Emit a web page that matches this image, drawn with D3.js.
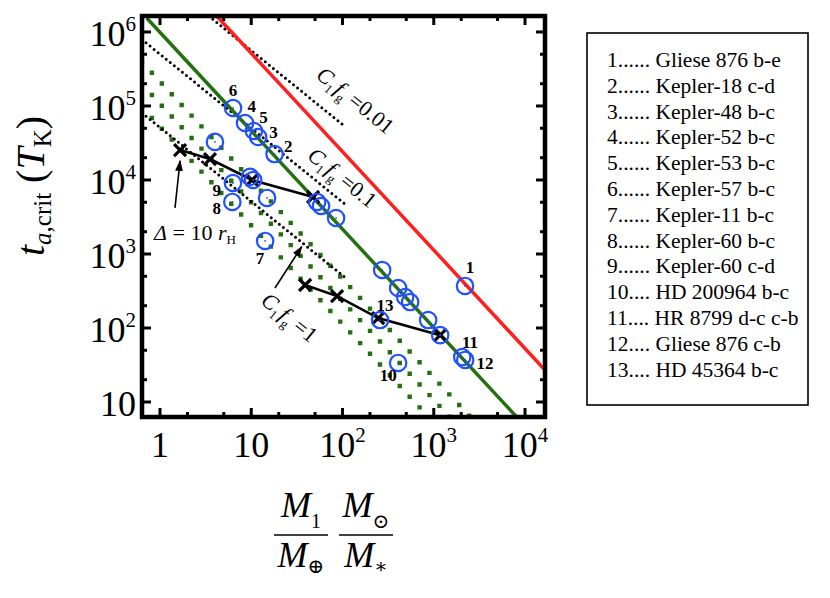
<!DOCTYPE html>
<html>
<head>
<meta charset="utf-8">
<script src="https://cdn.jsdelivr.net/npm/d3@7/dist/d3.min.js"></script>
<style>
  body { margin: 0; background: #fff; }
  svg { font-family: "Liberation Serif", "Times New Roman", "DejaVu Serif", serif; }
</style>
</head>
<body>
<svg width="830" height="598"></svg>
<script>

// planet pairs (blue circles)
var pairX = [2200, 18, 11.9, 10.7, 8.55, 6.32, 4.0, 9.7, 10.5, 6.3, 6.2, 14.9, 52.7, 58.2, 85, 14.2, 272, 407, 486, 551, 258, 868, 1175, 2050, 2210, 407];
var pairY = [370, 22400, 38100, 45900, 58900, 93900, 32700, 11000, 10000, 9100, 5050, 5720, 5050, 4450, 3060, 1500, 608, 347, 262, 224, 128, 128, 80, 40.5, 37, 33.7];

// number labels next to the circles
var labelNum = ["6", "4", "5", "3", "2", "9", "8", "7", "1", "13", "11", "12", "10"];
var labelX = [6.31, 10.1, 13.6, 17.5, 25.5, 4.18, 4.18, 12.5, 2497, 292, 2497, 3645, 318];
var labelY = [1.64e5, 1.0e5, 7.16e4, 4.5e4, 2.88e4, 7330, 4200, 875, 673, 205, 65.3, 33.4, 23.2];

// legend
var legendText = ["1...... Gliese 876 b-e", "2...... Kepler-18 c-d", "3...... Kepler-48 b-c",
  "4...... Kepler-52 b-c", "5...... Kepler-53 b-c", "6...... Kepler-57 b-c", "7...... Kepler-11 b-c",
  "8...... Kepler-60 b-c", "9...... Kepler-60 c-d", "10.... HD 200964 b-c", "11.... HR 8799 d-c c-b",
  "12.... Gliese 876 c-b", "13.... HD 45364 b-c"];

// Delta = 10 r_H tracks (crosses)
var trackAX = [1.66, 3.53, 10.2, 47.6];
var trackAY = [25400, 19200, 10000, 5890];
var trackBX = [38.9, 87.2, 246, 1175];
var trackBY = [381, 270, 136, 80];

// straight lines, end points
var redLine = [[4.18, 1.644e6], [1.656e4, 27]];
var greenLine = [[0.715, 1.545e6], [8110, 6.27]];
var greenDotted = [
  [[0.635, 3.92e5], [2512, 6.27]],
  [[0.635, 1.96e5], [1496, 6.27]],
  [[0.635, 9.6e4], [875, 6.27]]
];
var blackDotted = [
  [[3.42, 1.644e6], [107, 52500]],
  [[0.635, 7.9e5], [107, 4700]],
  [[0.635, 8.07e4], [107, 480]]
];
var cfgText = ["0.01", "0.1", "1"];
var cfgX = [137, 98.8, 25.9];
var cfgY = [1.17e5, 1.06e4, 136];

var xTicks = [1, 10, 100, 1000, 10000];
var xTickExp = ["", "", "2", "3", "4"];
var yTicks = [10, 100, 1000, 1e4, 1e5, 1e6];
var yTickExp = ["", "2", "3", "4", "5", "6"];

var svg = d3.select("svg");
var L = 142, R = 545, T = 16, B = 417;

var x = d3.scaleLog().domain([0.635, 1.656e4]).range([L, R]);
var y = d3.scaleLog().domain([6.27, 1.644e6]).range([B, T]);

var defs = svg.append("defs");
defs.append("clipPath").attr("id", "clip")
  .append("rect").attr("x", L).attr("y", T).attr("width", R - L).attr("height", B - T);
defs.append("marker").attr("id", "arrow")
  .attr("viewBox", "0 0 10 10").attr("refX", 9).attr("refY", 5)
  .attr("markerWidth", 7).attr("markerHeight", 7).attr("orient", "auto")
  .append("path").attr("d", "M0,1.5L10,5L0,8.5z").attr("fill", "#000");

var line = d3.line().x(function(d) { return x(d[0]); }).y(function(d) { return y(d[1]); });

var g = svg.append("g").attr("clip-path", "url(#clip)");

// green dotted
greenDotted.forEach(function(p) {
  g.append("path").attr("d", line(p))
    .attr("fill", "none").attr("stroke", "#23700f")
    .attr("stroke-width", 4.4).attr("stroke-linecap", "square")
    .attr("stroke-dasharray", "0,14.6");
});

// black dotted
blackDotted.forEach(function(p) {
  g.append("path").attr("d", line(p))
    .attr("fill", "none").attr("stroke", "#000")
    .attr("stroke-width", 3).attr("stroke-linecap", "round")
    .attr("stroke-dasharray", "0,5.2");
});

g.append("path").attr("d", line(redLine))
  .attr("fill", "none").attr("stroke", "#ff1f1f").attr("stroke-width", 3.5);
g.append("path").attr("d", line(greenLine))
  .attr("fill", "none").attr("stroke", "#23700f").attr("stroke-width", 3.5);

// tracks
[[trackAX, trackAY], [trackBX, trackBY]].forEach(function(t) {
  var pts = t[0].map(function(v, i) { return [v, t[1][i]]; });
  g.append("path").attr("d", line(pts))
    .attr("fill", "none").attr("stroke", "#000").attr("stroke-width", 2.6);
  g.selectAll(null).data(pts).enter().append("path")
    .attr("transform", function(d) { return "translate(" + x(d[0]) + "," + y(d[1]) + ")"; })
    .attr("d", "M-6,-6L6,6M-6,6L6,-6")
    .attr("stroke", "#000").attr("stroke-width", 3.2);
});

// planet circles
var pts = pairX.map(function(v, i) { return [v, pairY[i]]; });
g.selectAll(null).data(pts).enter().append("circle")
  .attr("cx", function(d) { return x(d[0]); })
  .attr("cy", function(d) { return y(d[1]); })
  .attr("r", 8.2).attr("fill", "none").attr("stroke", "#2050ff").attr("stroke-width", 2.2);
g.selectAll(null).data(pts).enter().append("circle")
  .attr("cx", function(d) { return x(d[0]); })
  .attr("cy", function(d) { return y(d[1]); })
  .attr("r", 0.9).attr("fill", "#2050ff");

// circle numbers
svg.selectAll(null).data(labelNum).enter().append("text")
  .attr("x", function(d, i) { return x(labelX[i]); })
  .attr("y", function(d, i) { return y(labelY[i]); })
  .attr("dy", "0.35em")
  .attr("text-anchor", "middle").attr("font-weight", "bold").attr("font-size", 17)
  .text(function(d) { return d; });

// C1 fg labels
var ang = Math.atan2(y(10) - y(100), x(10) - x(1)) * 180 / Math.PI;
cfgText.forEach(function(v, i) {
  var t = svg.append("text")
    .attr("transform", "translate(" + x(cfgX[i]) + "," + y(cfgY[i]) + ") rotate(" + ang + ")")
    .attr("text-anchor", "middle").attr("dy", "0.3em").attr("font-size", 22);
  t.append("tspan").attr("font-style", "italic").text("C");
  t.append("tspan").attr("font-size", 13).attr("dy", 5).text("1");
  t.append("tspan").attr("font-style", "italic").attr("dy", -5).attr("dx", 2).text("f");
  t.append("tspan").attr("font-size", 13).attr("dy", 5).text("g");
  t.append("tspan").attr("dy", -5).text(" =" + v);
});

// arrows
svg.append("line")
  .attr("x1", x(1.46)).attr("y1", y(4190)).attr("x2", x(1.66)).attr("y2", y(18100))
  .attr("stroke", "#000").attr("stroke-width", 1.6).attr("marker-end", "url(#arrow)");
svg.append("line")
  .attr("x1", x(18.2)).attr("y1", y(347)).attr("x2", x(35.7)).attr("y2", y(1257))
  .attr("stroke", "#000").attr("stroke-width", 1.6).attr("marker-end", "url(#arrow)");

var dl = svg.append("text").attr("x", x(2.42)).attr("y", y(1530))
  .attr("text-anchor", "middle").attr("font-size", 22);
dl.append("tspan").attr("font-style", "italic").text("\u0394");
dl.append("tspan").text(" = 10 ");
dl.append("tspan").attr("font-style", "italic").text("r");
dl.append("tspan").attr("font-size", 13).attr("dy", 4).text("H");

// frame
svg.append("rect").attr("x", L).attr("y", T).attr("width", R - L).attr("height", B - T)
  .attr("fill", "none").attr("stroke", "#000").attr("stroke-width", 4.5);

// ticks on all four sides
function minors(majors) {
  var m = [];
  majors.forEach(function(d) { m.push(d / 10 * 2, d / 10 * 5); });
  m.push(majors[majors.length - 1] * 2, majors[majors.length - 1] * 5);
  return m;
}
var tk = svg.append("g").attr("stroke", "#000").attr("stroke-width", 3);
function xTick(v, len) {
  var px = x(v);
  if (px < L + 2 || px > R - 2) return;
  tk.append("line").attr("x1", px).attr("x2", px).attr("y1", B).attr("y2", B - len);
  tk.append("line").attr("x1", px).attr("x2", px).attr("y1", T).attr("y2", T + len);
}
function yTick(v, len) {
  var py = y(v);
  if (py < T + 2 || py > B - 2) return;
  tk.append("line").attr("y1", py).attr("y2", py).attr("x1", L).attr("x2", L + len);
  tk.append("line").attr("y1", py).attr("y2", py).attr("x1", R).attr("x2", R - len);
}
xTicks.forEach(function(v) { xTick(v, 9); });
minors(xTicks).forEach(function(v) { xTick(v, 5); });
yTicks.forEach(function(v) { yTick(v, 9); });
minors(yTicks).forEach(function(v) { yTick(v, 5); });

// tick labels
xTicks.forEach(function(v, i) {
  var t = svg.append("text").attr("x", x(v)).attr("y", 457)
    .attr("text-anchor", "middle").attr("font-size", 36);
  t.append("tspan").text(v === 1 ? "1" : "10");
  if (xTickExp[i]) t.append("tspan").attr("font-size", 21).attr("dy", -15).text(xTickExp[i]);
});
yTicks.forEach(function(v, i) {
  var t = svg.append("text").attr("x", 136).attr("y", y(v) + 14)
    .attr("text-anchor", "end").attr("font-size", 36);
  t.append("tspan").text("10");
  if (yTickExp[i]) t.append("tspan").attr("font-size", 21).attr("dy", -15).text(yTickExp[i]);
});

// y title
var yt = svg.append("text").attr("transform", "translate(44,186) rotate(-90)")
  .attr("text-anchor", "middle").attr("font-size", 40);
yt.append("tspan").attr("font-style", "italic").text("t");
yt.append("tspan").attr("font-size", 25).attr("dy", 7).attr("font-style", "italic").text("a");
yt.append("tspan").attr("font-size", 25).text(",crit");
yt.append("tspan").attr("dy", -7).text(" (");
yt.append("tspan").attr("font-style", "italic").text("T");
yt.append("tspan").attr("font-size", 25).attr("dy", 7).text("K");
yt.append("tspan").attr("dy", -7).text(")");

// x title: two fractions
function frac(cx, num, numSub, den, denSub) {
  var n = svg.append("text").attr("x", cx).attr("y", 517).attr("text-anchor", "middle").attr("font-size", 36);
  n.append("tspan").attr("font-style", "italic").text(num);
  n.append("tspan").attr("font-size", 20).attr("dy", 11).text(numSub);
  svg.append("line").attr("x1", cx - 27).attr("x2", cx + 27).attr("y1", 535).attr("y2", 535)
    .attr("stroke", "#000").attr("stroke-width", 1.6);
  var d = svg.append("text").attr("x", cx).attr("y", 567).attr("text-anchor", "middle").attr("font-size", 36);
  d.append("tspan").attr("font-style", "italic").text(den);
  d.append("tspan").attr("font-size", 20).attr("dy", 6).text(denSub);
}
frac(301, "M", "1", "M", "\u2295");
frac(366, "M", "\u2299", "M", "\u2217");

// legend
svg.append("rect").attr("x", 587).attr("y", 33).attr("width", 221).attr("height", 372)
  .attr("fill", "none").attr("stroke", "#000").attr("stroke-width", 1.6);
svg.selectAll(null).data(legendText).enter().append("text")
  .attr("x", 607).attr("y", function(d, i) { return 67 + i * 25.8; })
  .attr("font-size", 21.5).text(function(d) { return d; });

</script>
</body>
</html>
